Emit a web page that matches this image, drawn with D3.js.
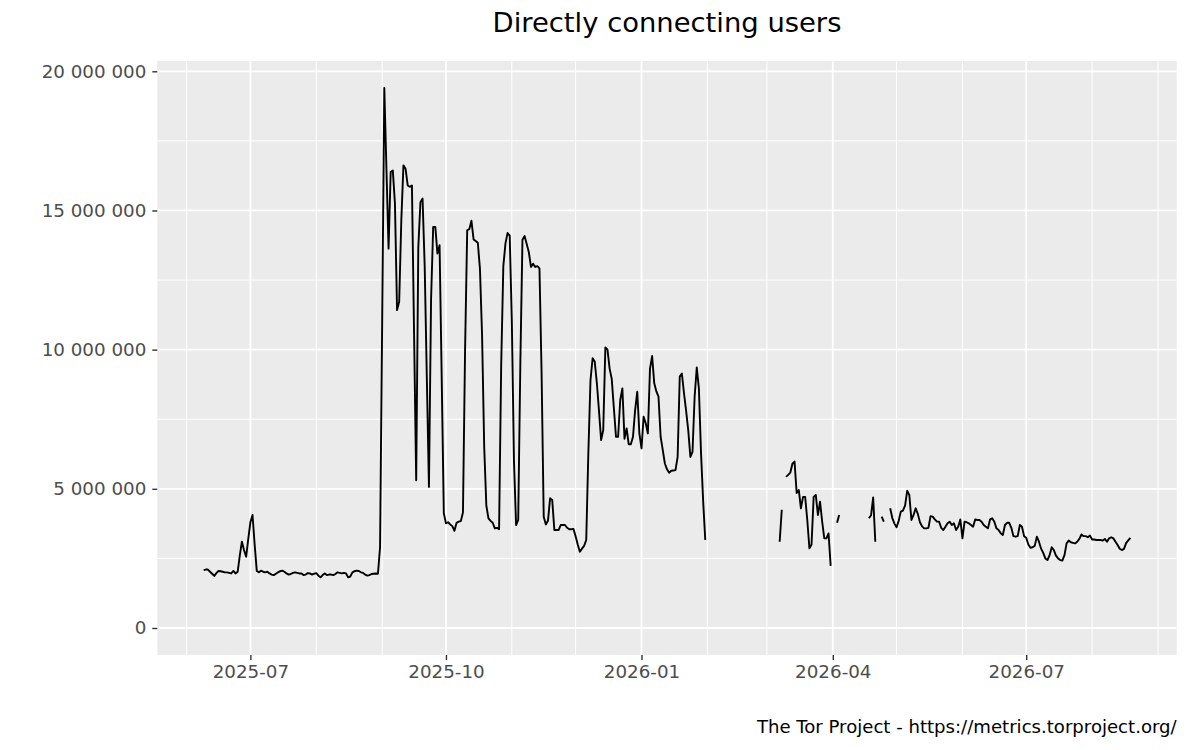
<!DOCTYPE html>
<html lang="en">

<head>
    <meta charset="UTF-8">
    <title>Directly connecting users</title>
    <style>
        body { margin: 0; background: #fff; }
        text { font-family: "DejaVu Sans", sans-serif; }
    </style>
</head>

<body>
    <script src="https://cdn.jsdelivr.net/npm/d3@7"></script>
    <script>
        // daily users, in millions; null = no data that day
        const periodStarts = ["2025-06-09", "2025-07-01", "2025-10-01", "2026-01-01", "2026-04-01", "2026-07-01"];

        const users2025Q2 = [2.08, 2.1, 2.1, 2.02, 1.95, 1.87, 1.97, 2.05, 2.04, 2.02, 2.0, 2.0, 1.98, 1.96, 2.05, 1.96,
            2.02, 2.6, 3.1, 2.8, 2.56, 3.2];

        const users2025Q3 = [3.8, 4.06, 3.0, 2.05, 2.0, 2.06, 2.02, 2.0, 2.02, 1.96,
            1.92, 1.9, 1.95, 2.0, 2.04, 2.06, 2.02, 1.96, 1.92, 1.94,
            1.98, 2.0, 1.98, 1.96, 1.96, 1.9, 1.92, 1.97, 1.96, 1.92,
            1.95, 1.97, 1.88, 1.82, 1.9, 1.96, 1.9, 1.92, 1.92, 1.9,
            1.94, 2.0, 1.98, 1.96, 1.98, 1.96, 1.82, 1.85, 2.0, 2.04,
            2.06, 2.05, 2.0, 1.98, 1.92, 1.88, 1.9, 1.94, 1.95, 1.96,
            1.95, 2.9, 11.0, 19.4, 16.5, 13.63, 16.38, 16.44, 15.25, 11.42,
            11.72, 14.65, 16.62, 16.5, 15.9, 15.85, 15.9, 10.6, 5.31, 13.69,
            15.3, 15.43, 13.0, 9.0, 5.07, 11.8, 14.41, 14.41, 13.45, 13.75,
            9.0, 4.12];

        const users2025Q4 = [3.76, 3.8, 3.72, 3.66, 3.49, 3.78, 3.82, 3.84, 4.15, 10.0,
            14.29, 14.33, 14.63, 13.96, 13.9, 13.84, 12.9, 10.5, 6.5, 4.4,
            3.94, 3.85, 3.78, 3.58, 3.6, 3.55, 9.5, 13.0, 13.82, 14.19,
            14.1, 11.0, 6.0, 3.7, 3.88, 9.5, 13.95, 14.08, 13.8, 13.5,
            12.97, 13.09, 12.97, 13.0, 12.92, 9.14, 4.0, 3.72, 3.85, 4.66,
            4.6, 3.52, 3.52, 3.52, 3.7, 3.7, 3.7, 3.6, 3.55, 3.55,
            3.56, 3.3, 3.0, 2.74, 2.85, 2.95, 3.16, 6.3, 8.9, 9.69,
            9.57, 8.8, 7.8, 6.75, 7.11, 10.08, 10.0, 9.32, 8.95, 7.9,
            6.87, 6.87, 8.19, 8.61, 6.8, 7.17, 6.6, 6.6, 6.87, 7.83,
            8.49, 6.99];

        const users2026Q1 = [6.45, 7.59, 7.35, 6.99, 9.32, 9.77, 8.79, 8.5, 8.31, 6.87,
            6.4, 5.91, 5.7, 5.58, 5.65, 5.66, 5.67, 6.15, 9.03, 9.14,
            8.43, 7.8, 7.1, 6.15, 6.33, 8.31, 9.36, 8.61, 6.3, 4.57,
            3.16,
            null, null, null, null, null, null, null, null, null, null,
            null, null, null, null, null, null, null, null, null, null,
            null, null, null, null, null, null, null, null, null, null,
            null, null, null, null,
            3.1, 4.25, null, 5.43, 5.5, 5.58, 5.9, 5.98, 4.85, 4.96,
            4.3, 4.71, 4.71, 3.88, 2.86, 3.0, 4.71, 4.78, 4.06, 4.54,
            3.82, 3.22, 3.22, 3.4, 2.23];

        const users2026Q2 = [null, null, 3.78, 4.06,
            null, null, null, null, null, null, null, null, null, null, null, null, null,
            3.94, 4.05, 4.69, 3.1, null, null, 4.0, 3.82, null, null,
            4.3, 3.95, 3.75, 3.62, 3.85, 4.18, 4.22, 4.4, 4.93, 4.78,
            3.88, 4.06, 4.3, 4.1, 3.8, 3.65, 3.58, 3.58, 3.6, 4.02,
            4.0, 3.9, 3.82, 3.82, 3.6, 3.52, 3.64, 3.76, 3.82, 3.7,
            3.76, 3.52, 3.64, 3.9, 3.22, 3.82, 3.8, 3.76, 3.7, 3.64,
            3.9, 3.88, 3.88, 3.82, 3.7, 3.64, 3.58, 3.9, 3.94, 3.82,
            3.58, 3.52, 3.4, 3.34, 3.7, 3.78, 3.78, 3.6, 3.3, 3.28,
            3.3, 3.7, 3.64, 3.3];

        const users2026Q3 = [3.24, 3.0, 2.88, 2.9, 2.95, 3.28, 3.1, 2.85, 2.7, 2.5,
            2.44, 2.62, 2.9, 2.8, 2.6, 2.5, 2.44, 2.42, 2.62, 3.04,
            3.14, 3.08, 3.06, 3.04, 3.1, 3.2, 3.36, 3.3, 3.3, 3.26,
            3.32, 3.18, 3.18, 3.16, 3.16, 3.16, 3.14, 3.2, 3.1, 3.22,
            3.26, 3.22, 3.1, 2.98, 2.85, 2.8, 2.84, 3.05, 3.15, 3.24];

        const periods = [users2025Q2, users2025Q3, users2025Q4, users2026Q1, users2026Q2, users2026Q3];

        const yTicks = [0, 5000000, 10000000, 15000000, 20000000];
        const yMinorTicks = [2500000, 7500000, 12500000, 17500000];
        const xTicks = ["2025-07-01", "2025-10-01", "2026-01-01", "2026-04-01", "2026-07-01"];
        const xMinorTicks = ["2025-06-01", "2025-08-01", "2025-09-01", "2025-11-01", "2025-12-01", "2026-02-01",
            "2026-03-01", "2026-05-01", "2026-06-01", "2026-08-01", "2026-09-01"];

        const titleText = "Directly connecting users";
        const captionText = "The Tor Project - https://metrics.torproject.org/";

        const svg_w = 1200;
        const svg_h = 750;
        const panel = { left: 157.3, right: 1176.7, top: 61, bottom: 655 };

        const parseDay = d3.utcParse("%Y-%m-%d");
        const DAY = 86400000;

        let rows = [];
        periods.forEach((vals, p) => {
            const t0 = parseDay(periodStarts[p]).getTime();
            vals.forEach((v, i) => {
                rows.push({ date: new Date(t0 + i * DAY), value: v == null ? null : v * 1e6 });
            });
        });

        const svg = d3.select('body')
            .append('svg')
            .attr('width', svg_w)
            .attr('height', svg_h)
            .style('background-color', 'white');

        // ggplot-like 5% expansion on both axes
        const xExt = d3.extent(rows, d => d.date);
        const xPad = (xExt[1] - xExt[0]) * 0.05;
        const x = d3.scaleUtc()
            .domain([new Date(xExt[0].getTime() - xPad), new Date(xExt[1].getTime() + xPad)])
            .range([panel.left, panel.right]);

        const yMax = d3.max(rows, d => d.value);
        const y = d3.scaleLinear()
            .domain([-yMax * 0.05, yMax * 1.05])
            .range([panel.bottom, panel.top]);

        svg.append('rect')
            .attr('x', panel.left)
            .attr('y', panel.top)
            .attr('width', panel.right - panel.left)
            .attr('height', panel.bottom - panel.top)
            .attr('fill', '#EBEBEB');

        const grid = svg.append('g');

        grid.selectAll('.ymin').data(yMinorTicks).enter().append('line')
            .attr('x1', panel.left).attr('x2', panel.right)
            .attr('y1', d => y(d)).attr('y2', d => y(d))
            .attr('stroke', 'white').attr('stroke-width', 1.0);

        grid.selectAll('.xmin').data(xMinorTicks).enter().append('line')
            .attr('x1', d => x(parseDay(d))).attr('x2', d => x(parseDay(d)))
            .attr('y1', panel.top).attr('y2', panel.bottom)
            .attr('stroke', 'white').attr('stroke-width', 1.0);

        grid.selectAll('.ymaj').data(yTicks).enter().append('line')
            .attr('x1', panel.left).attr('x2', panel.right)
            .attr('y1', d => y(d)).attr('y2', d => y(d))
            .attr('stroke', 'white').attr('stroke-width', 1.8);

        grid.selectAll('.xmaj').data(xTicks).enter().append('line')
            .attr('x1', d => x(parseDay(d))).attr('x2', d => x(parseDay(d)))
            .attr('y1', panel.top).attr('y2', panel.bottom)
            .attr('stroke', 'white').attr('stroke-width', 1.8);

        const line = d3.line()
            .defined(d => d.value != null)
            .x(d => x(d.date))
            .y(d => y(d.value));

        svg.append('path')
            .datum(rows)
            .attr('d', line)
            .attr('fill', 'none')
            .attr('stroke', 'black')
            .attr('stroke-width', 1.9)
            .attr('stroke-linejoin', 'round');

        const numFmt = d3.formatLocale({ decimal: ".", thousands: " ", grouping: [3], currency: ["", ""] }).format(",d");

        const yAxis = svg.append('g')
            .attr('transform', `translate(${panel.left},0)`)
            .call(d3.axisLeft(y).tickValues(yTicks).tickFormat(numFmt).tickSize(5).tickPadding(6));

        const xAxis = svg.append('g')
            .attr('transform', `translate(0,${panel.bottom})`)
            .call(d3.axisBottom(x).tickValues(xTicks.map(parseDay)).tickFormat(d3.utcFormat("%Y-%m")).tickSize(5).tickPadding(5));

        [yAxis, xAxis].forEach(a => {
            a.select('.domain').remove();
            a.selectAll('.tick line').attr('stroke', '#333333').attr('stroke-width', 1.4);
            a.selectAll('.tick text')
                .attr('fill', '#4D4D4D')
                .style('font-size', '18.3px')
                .style('font-family', '"DejaVu Sans", sans-serif');
        });

        svg.append('text')
            .attr('x', (panel.left + panel.right) / 2)
            .attr('y', 32.3)
            .attr('text-anchor', 'middle')
            .style('font-size', '27.4px')
            .attr('fill', 'black')
            .text(titleText);

        svg.append('text')
            .attr('x', panel.right)
            .attr('y', 733)
            .attr('text-anchor', 'end')
            .style('font-size', '18.1px')
            .attr('fill', 'black')
            .text(captionText);
    </script>
</body>

</html>
